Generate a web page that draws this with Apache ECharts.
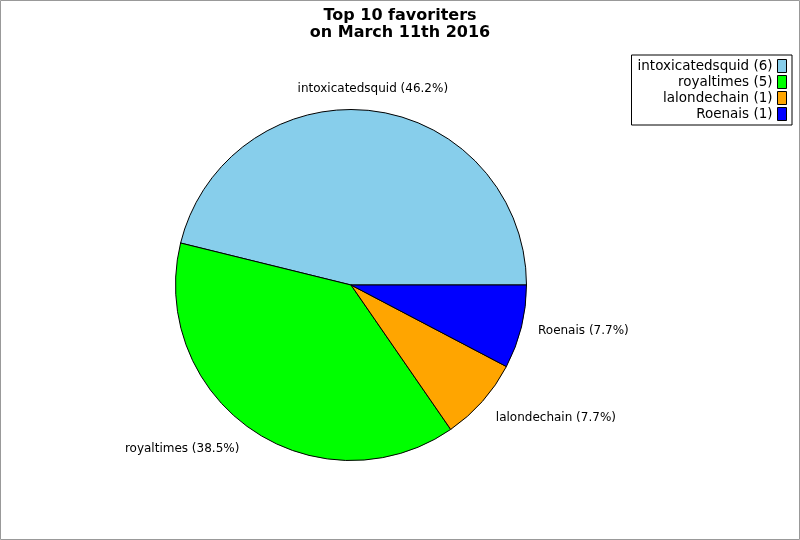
<!DOCTYPE html>
<html>
<head>
<meta charset="utf-8">
<script src="https://cdn.jsdelivr.net/npm/echarts@6/dist/echarts.min.js"></script>
<style>html,body{margin:0;padding:0;background:#fff}#c{width:800px;height:540px}</style>
</head>
<body>
<div id="c"></div>
<script>
var names = ['intoxicatedsquid', 'royaltimes', 'lalondechain', 'Roenais'];
var values = [6, 5, 1, 1];
var colors = ['#87CEEB', '#00FF00', '#FFA500', '#0000FF'];
var titleLines = ['Top 10 favoriters', 'on March 11th 2016'];

var total = values.reduce(function (a, b) { return a + b; }, 0);
var data = names.map(function (n, i) { return { name: n, value: values[i], itemStyle: { color: colors[i] } }; });
var font = 'DejaVu Sans';
var labelShift = [[-6, -8], [1, 8], [-2, 7], [-2, 1]];

var chart = echarts.init(document.getElementById('c'));
chart.setOption({
  animation: false,
  backgroundColor: '#fff',
  graphic: [{
    type: 'rect', shape: { x: 0.5, y: 0.5, width: 799, height: 539 },
    style: { fill: 'none', stroke: '#999', lineWidth: 1 }, silent: true
  }],
  title: {
    text: titleLines.join('\n'), left: 'center', top: 2,
    textStyle: { fontFamily: font, fontWeight: 'bold', fontSize: 16, lineHeight: 17, color: '#000' }
  },
  legend: {
    orient: 'vertical', right: 8, top: 55, align: 'right',
    backgroundColor: '#fff', borderColor: '#000', borderWidth: 1,
    padding: [4, 5, 4, 3], itemGap: 2, itemWidth: 9, itemHeight: 13,
    itemStyle: { borderColor: '#000', borderWidth: 1 },
    icon: 'rect',
    formatter: function (n) { return '{a|' + n + ' (' + values[names.indexOf(n)] + ')}'; },
    textStyle: {
      fontFamily: font, fontSize: 13.5, color: '#000',
      rich: { a: { width: 138, align: 'right', fontFamily: font, fontSize: 13.5, lineHeight: 13 } }
    }
  },
  series: [{
    type: 'pie', center: [351, 285], radius: 175.5,
    startAngle: 0, clockwise: false,
    itemStyle: { borderColor: '#000', borderWidth: 1 },
    label: {
      show: true, position: 'outside', fontFamily: font, fontSize: 12, color: '#000',
      formatter: function (p) { return p.name + ' (' + (p.value / total * 100).toFixed(1) + '%)'; }
    },
    labelLine: { show: false, length: 14, length2: 0 },
    labelLayout: function (p) {
      var s = labelShift[p.dataIndex];
      if (p.dataIndex === 0) return { dx: -p.labelRect.width / 2 + s[0], dy: s[1] };
      return { dx: s[0], dy: s[1] };
    },
    emphasis: { disabled: true },
    data: data
  }]
});
</script>
</body>
</html>
